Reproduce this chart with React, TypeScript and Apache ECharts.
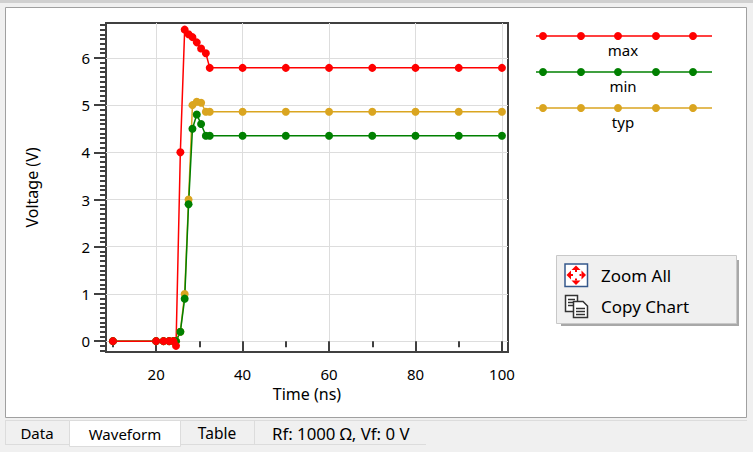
import React, { useEffect, useRef } from "react";
import * as echarts from "echarts";

const FONT = '"Noto Sans", "Open Sans", sans-serif';
const time = [10, 20, 21.7, 23, 24, 24.6, 25.6, 26.6, 27.5, 28.4, 29.4, 30.4, 31.5, 32.4, 40, 50, 60, 70, 80, 90, 100];
const maxV = [0, 0, 0, 0, 0, -0.1, 4, 6.6, 6.5, 6.44, 6.33, 6.2, 6.1, 5.79, 5.79, 5.79, 5.79, 5.79, 5.79, 5.79, 5.79];
const minV = [0, 0, 0, 0, 0, 0, 0.2, 0.9, 2.9, 4.5, 4.8, 4.6, 4.35, 4.35, 4.35, 4.35, 4.35, 4.35, 4.35, 4.35, 4.35];
const typV = [0, 0, 0, 0, 0, 0, 0.2, 1, 3, 5, 5.07, 5.05, 4.86, 4.86, 4.86, 4.86, 4.86, 4.86, 4.86, 4.86, 4.86];
const xMajor = [20, 40, 60, 80, 100];
const xMinor = [10, 30, 50, 70, 90];
const yMajor = [0, 1, 2, 3, 4, 5, 6];
const yMinor = [-0.2, -0.1, 0.1, 0.2, 0.3, 0.4, 0.5, 0.6, 0.7, 0.8, 0.9, 1.1, 1.2, 1.3, 1.4, 1.5, 1.6, 1.7, 1.8, 1.9, 2.1, 2.2, 2.3, 2.4, 2.5, 2.6, 2.7, 2.8, 2.9, 3.1, 3.2, 3.3, 3.4, 3.5, 3.6, 3.7, 3.8, 3.9, 4.1, 4.2, 4.3, 4.4, 4.5, 4.6, 4.7, 4.8, 4.9, 5.1, 5.2, 5.3, 5.4, 5.5, 5.6, 5.7, 5.8, 5.9, 6.1, 6.2, 6.3, 6.4, 6.5, 6.6, 6.7];
const legendItems = [
  { name: "max", color: "#ff0000" },
  { name: "min", color: "#008000" },
  { name: "typ", color: "#daa520" },
];
const legendDots = [543, 581, 618, 656, 693];
const menuItems = ["Zoom All", "Copy Chart"];
const tabs = ["Data", "Waveform", "Table", "Rf: 1000 Ω, Vf: 0 V"];

const zip = (ys: number[]) => time.map((t, i) => [t, ys[i]]);
const AXIS = "#404040";
const TAB_LINE = "#dcdcdc";
const txt = (x: number, y: number, text: string, align = "center", z = 0, size = 15) => ({
  type: "text", x, y, z,
  style: { text, fill: "#000", font: `${size}px ${FONT}`, align, verticalAlign: "middle" },
});
const rect = (x: number, y: number, width: number, height: number, fill: string, stroke?: string, z = -1, lineWidth = 1) => ({
  type: "rect", z, shape: { x, y, width, height },
  style: { fill, stroke: stroke ?? "none", lineWidth },
});
const poly = (points: number[][], fill: string) => ({ type: "polygon", z: 5, shape: { points }, style: { fill } });
const ln = (x1: number, y1: number, x2: number, y2: number, stroke: string, lineWidth = 1, z = 5) => ({
  type: "line", z, shape: { x1, y1, x2, y2 }, style: { stroke, lineWidth },
});

function chrome(): any[] {
  const g: any[] = [
    rect(0, 0, 753, 3, "#d0d0d0"),
    rect(5.5, 7.5, 741, 410, "#ffffff", "#a0a0a0"),
    ln(5, 420.5, 747, 420.5, TAB_LINE, 1, -1),
    ln(5, 444.5, 426, 444.5, TAB_LINE, 1, -1),
    ln(5.5, 420, 5.5, 445, TAB_LINE, 1, -1),
    ln(254.5, 420, 254.5, 445, TAB_LINE, 1, -1),
    rect(69.5, 420.5, 111, 26, "#ffffff", TAB_LINE),
    txt(37, 433, tabs[0], "center", 0, 15),
    txt(125, 434, tabs[1], "center", 0, 15),
    txt(217, 433, tabs[2], "center", 0, 15.5),
    txt(272, 433, tabs[3], "left", 0, 16.8),
  ];
  legendItems.forEach((it, i) => {
    const y = 36 + i * 36;
    g.push(ln(536, y, 712, y, it.color, 1.5));
    legendDots.forEach((x) =>
      g.push({ type: "circle", z: 5, shape: { cx: x, cy: y, r: 4 }, style: { fill: it.color } })
    );
    g.push(txt(623, y + 14, it.name, "center", 5, 15));
  });
  // context menu
  g.push(rect(561, 260, 178, 66, "#a8a8a8", undefined, 3));
  g.push(rect(556.5, 255.5, 180, 68, "#f0f0f0", "#c8c8c8", 4));
  g.push(rect(565, 264, 22.5, 22.5, "#ffffff", "#35588c", 5, 1.5));
  const R = "#ff0000";
  g.push(poly([[576, 265.5], [580.5, 270], [571.5, 270]], R), poly([[576, 285], [580.5, 280.5], [571.5, 280.5]], R));
  g.push(poly([[566.5, 275], [571, 270.5], [571, 279.5]], R), poly([[586, 275], [581.5, 270.5], [581.5, 279.5]], R));
  g.push(ln(576, 270, 576, 272, R, 2), ln(576, 278.5, 576, 280.5, R, 2), ln(571, 275, 573, 275, R, 2), ln(579.5, 275, 581.5, 275, R, 2));
  const D = "#333333";
  g.push(rect(565.5, 295.5, 12, 16, "#fff", D, 5, 1.5));
  g.push(ln(568, 299.5, 575, 299.5, D, 1.5), ln(568, 302.5, 575, 302.5, D, 1.5), ln(568, 305.5, 573, 305.5, D, 1.5));
  g.push({ type: "polygon", z: 6, shape: { points: [[573.5, 301.5], [583, 301.5], [587.5, 306], [587.5, 317.5], [573.5, 317.5]] }, style: { fill: "#fff", stroke: D, lineWidth: 1.5 } });
  g.push(ln(576, 308.5, 585, 308.5, D, 1.5, 7), ln(576, 311.5, 585, 311.5, D, 1.5, 7), ln(576, 314.5, 585, 314.5, D, 1.5, 7));
  g.push(txt(601, 275, menuItems[0], "left", 5, 17), txt(601, 306, menuItems[1], "left", 5, 17));
  return g;
}

const XMIN = 8.4, XMAX = 101.4, YMIN = -0.23, YMAX = 6.74;

export default function App() {
  const ref = useRef<HTMLDivElement>(null);
  useEffect(() => {
    const chart = echarts.init(ref.current!, undefined, { renderer: "svg" });
    const line = (name: string, ys: number[], color: string) => ({
      name, type: "line", data: zip(ys), symbol: "circle", symbolSize: 8, showSymbol: true,
      showAllSymbol: true, clip: false, lineStyle: { color, width: 1.5 }, itemStyle: { color },
    });
    chart.setOption({
      animation: false,
      backgroundColor: "#f0f0f0",
      textStyle: { fontFamily: FONT },
      grid: { left: 106, right: 245, top: 23, bottom: 100, show: true, borderColor: AXIS, borderWidth: 2, backgroundColor: "transparent" },
      xAxis: [
        {
          type: "value", min: XMIN, max: XMAX, name: "Time (ns)", nameLocation: "middle", nameGap: 33,
          nameTextStyle: { color: "#000", fontSize: 16, fontFamily: FONT },
          axisLine: { show: false },
          axisTick: { show: true, length: 11, customValues: xMajor, lineStyle: { color: AXIS, width: 2 } },
          axisLabel: { customValues: xMajor, color: "#000", fontSize: 15, fontFamily: FONT, margin: 14 },
          splitLine: { show: true, lineStyle: { color: "#dddddd", width: 1 } },
        },
        {
          type: "value", min: XMIN, max: XMAX, position: "bottom",
          axisLine: { show: false },
          axisTick: { show: true, length: 6, customValues: xMinor, lineStyle: { color: AXIS, width: 2 } },
          axisLabel: { show: false }, splitLine: { show: false },
        },
      ],
      yAxis: [
        {
          type: "value", min: YMIN, max: YMAX, name: "Voltage (V)", nameLocation: "middle", nameGap: 66, nameRotate: 90,
          nameTextStyle: { color: "#000", fontSize: 16, fontFamily: FONT },
          axisLine: { show: false },
          axisTick: { show: true, length: 12, customValues: yMajor, lineStyle: { color: AXIS, width: 2 } },
          axisLabel: { customValues: yMajor, color: "#000", fontSize: 15, fontFamily: FONT, margin: 16 },
          splitLine: { show: true, lineStyle: { color: "#dddddd", width: 1 } },
        },
        {
          type: "value", min: YMIN, max: YMAX, position: "left",
          axisLine: { show: false },
          axisTick: { show: true, length: 6, customValues: yMinor, lineStyle: { color: AXIS, width: 2 } },
          axisLabel: { show: false }, splitLine: { show: false },
        },
      ],
      series: [
        line("typ", typV, legendItems[2].color),
        line("min", minV, legendItems[1].color),
        line("max", maxV, legendItems[0].color),
      ],
      graphic: chrome(),
    });
    return () => chart.dispose();
  }, []);
  return <div ref={ref} style={{ position: "absolute", left: 0, top: 0, width: 753, height: 452 }} />;
}
